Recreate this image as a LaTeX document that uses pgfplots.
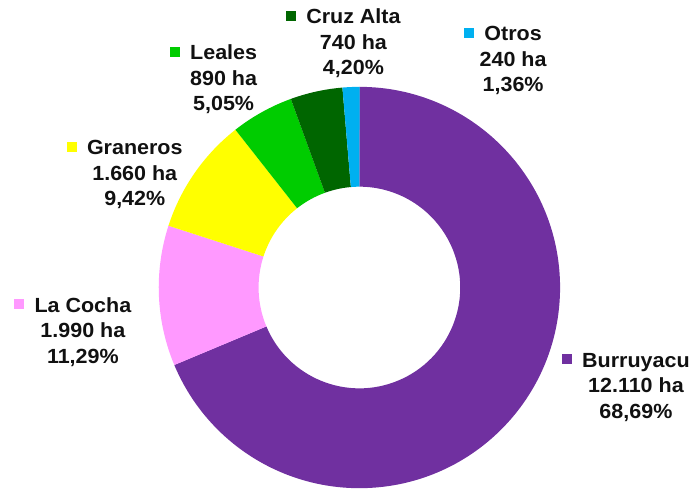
\documentclass[border=0pt]{standalone}
\usepackage{pgfplots}
\pgfplotsset{compat=1.18}
\usepackage{fontspec}
\setmainfont{Liberation Sans}[FakeStretch=1.05]
\usetikzlibrary{calc}
\definecolor{cBur}{HTML}{7030A0}
\definecolor{cCoc}{HTML}{FF99FF}
\definecolor{cGra}{HTML}{FFFF00}
\definecolor{cLea}{HTML}{00CC00}
\definecolor{cCru}{HTML}{006600}
\definecolor{cOtr}{HTML}{00B0F0}
\definecolor{txt}{HTML}{111111}
% share (%) of each department, clockwise from the top
\def\cx{360}\def\cy{204}
\def\Rout{201pt}\def\Rin{101pt}
\gdef\angA{90}
\newcommand\sector[2]{%
  \pgfmathsetmacro\angB{\angA-3.6*#1}%
  \edef\doit{\noexpand\fill[#2] ($(axis cs:\cx,\cy)+(\angA:\Rout)$) arc[start angle=\angA, end angle=\angB, radius=\Rout] -- ($(axis cs:\cx,\cy)+(\angB:\Rin)$) arc[start angle=\angB, end angle=\angA, radius=\Rin] -- cycle;}%
  \doit
  \global\let\angA\angB}
\newcommand\lab[7]{% x, baseline y (px from top), color, name, ha, pct
  \node[anchor=base,text=txt] at (axis cs:#1,492-#2) {\llap{\textcolor{#3}{\raisebox{3pt}{\rule{10pt}{10pt}}}\hspace{10.5pt}}#4};
  \node[anchor=base,text=txt] at (axis cs:#1,492-#2-25.5) {#5};
  \node[anchor=base,text=txt] at (axis cs:#1,492-#2-51) {#6};}
\begin{document}
\begin{tikzpicture}
\begin{axis}[scale only axis, width=693pt, height=492pt,
  xmin=0, xmax=693, ymin=0, ymax=492, hide axis, clip=false,
  font=\bfseries\fontsize{20.5}{25}\selectfont]
\path (axis cs:0,0) rectangle (axis cs:693,492);
\sector{68.69}{cBur}
\sector{11.29}{cCoc}
\sector{9.42}{cGra}
\sector{5.05}{cLea}
\sector{4.20}{cCru}
\sector{1.36}{cOtr}
\lab{637}{368}{cBur}{Burruyacu}{12.110 ha}{68,69\%}{}
\lab{83}{313}{cCoc}{La Cocha}{1.990 ha}{11,29\%}{}
\lab{135}{155}{cGra}{Graneros}{1.660 ha}{9,42\%}{}
\lab{224}{60}{cLea}{Leales}{890 ha}{5,05\%}{}
\lab{354}{24}{cCru}{Cruz Alta}{740 ha}{4,20\%}{}
\lab{514}{41}{cOtr}{Otros}{240 ha}{1,36\%}{}
\end{axis}
\end{tikzpicture}
\end{document}
